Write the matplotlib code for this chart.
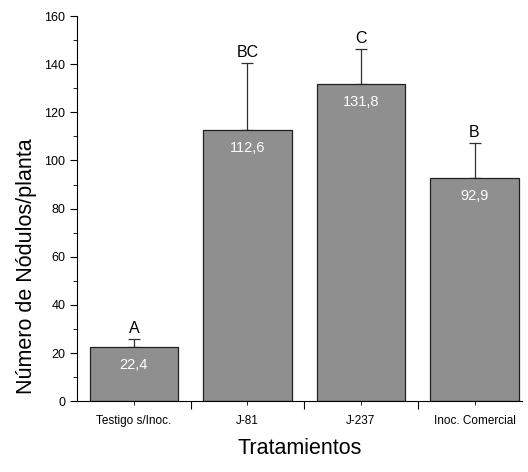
import matplotlib.pyplot as plt
from matplotlib.ticker import MultipleLocator, FixedLocator

plt.rcParams['font.family'] = ['Liberation Sans', 'DejaVu Sans']

tratamientos = ['Testigo s/Inoc.', 'J-81', 'J-237', 'Inoc. Comercial']
nodulos = [22.4, 112.6, 131.8, 92.9]
error_sup = [3.4, 28.0, 14.4, 14.3]
letras = ['A', 'BC', 'C', 'B']
etiquetas = ['22,4', '112,6', '131,8', '92,9']

fig = plt.figure(figsize=(5.28, 4.72), dpi=100)
ax = fig.add_axes([0.146, 0.150, 0.843, 0.816])

x = list(range(len(tratamientos)))
ax.bar(x, nodulos, width=0.78, color='#8f8f8f', edgecolor='#202020', linewidth=0.9, zorder=2)
ax.errorbar(x, nodulos, yerr=[[0] * len(x), error_sup], fmt='none',
            ecolor='#303030', elinewidth=0.9, capsize=4.5, capthick=0.9, zorder=1)

for xi, v, e, l, t in zip(x, nodulos, error_sup, letras, etiquetas):
    ax.text(xi, v - 7.5, t, ha='center', va='center', color='white', fontsize=10.5)
    ax.text(xi, v + e + 1.2, l, ha='center', va='bottom', color='black', fontsize=11.5)

ax.set_xlim(-0.5, 3.42)
ax.set_ylim(0, 160)
ax.spines['top'].set_visible(False)
ax.spines['right'].set_visible(False)

# major ticks between categories, labels at centres
ax.xaxis.set_major_locator(FixedLocator([0.5, 1.5, 2.5]))
ax.xaxis.set_minor_locator(FixedLocator(x))
ax.set_xticklabels([])
ax.set_xticklabels(tratamientos, minor=True, fontsize=8.5)
ax.tick_params(axis='x', which='major', direction='out', length=6)
ax.tick_params(axis='x', which='minor', direction='out', length=3, pad=7)

ax.yaxis.set_major_locator(MultipleLocator(20))
ax.yaxis.set_minor_locator(MultipleLocator(10))
ax.tick_params(axis='y', which='major', direction='out', length=5, labelsize=9)
ax.tick_params(axis='y', which='minor', direction='out', length=3)

ax.set_xlabel('Tratamientos', fontsize=15.5, labelpad=8)
ax.set_ylabel('Número de Nódulos/planta', fontsize=15.5)
ax.yaxis.set_label_coords(-0.09, 0.35)

fig.savefig('out.png', dpi=100)
